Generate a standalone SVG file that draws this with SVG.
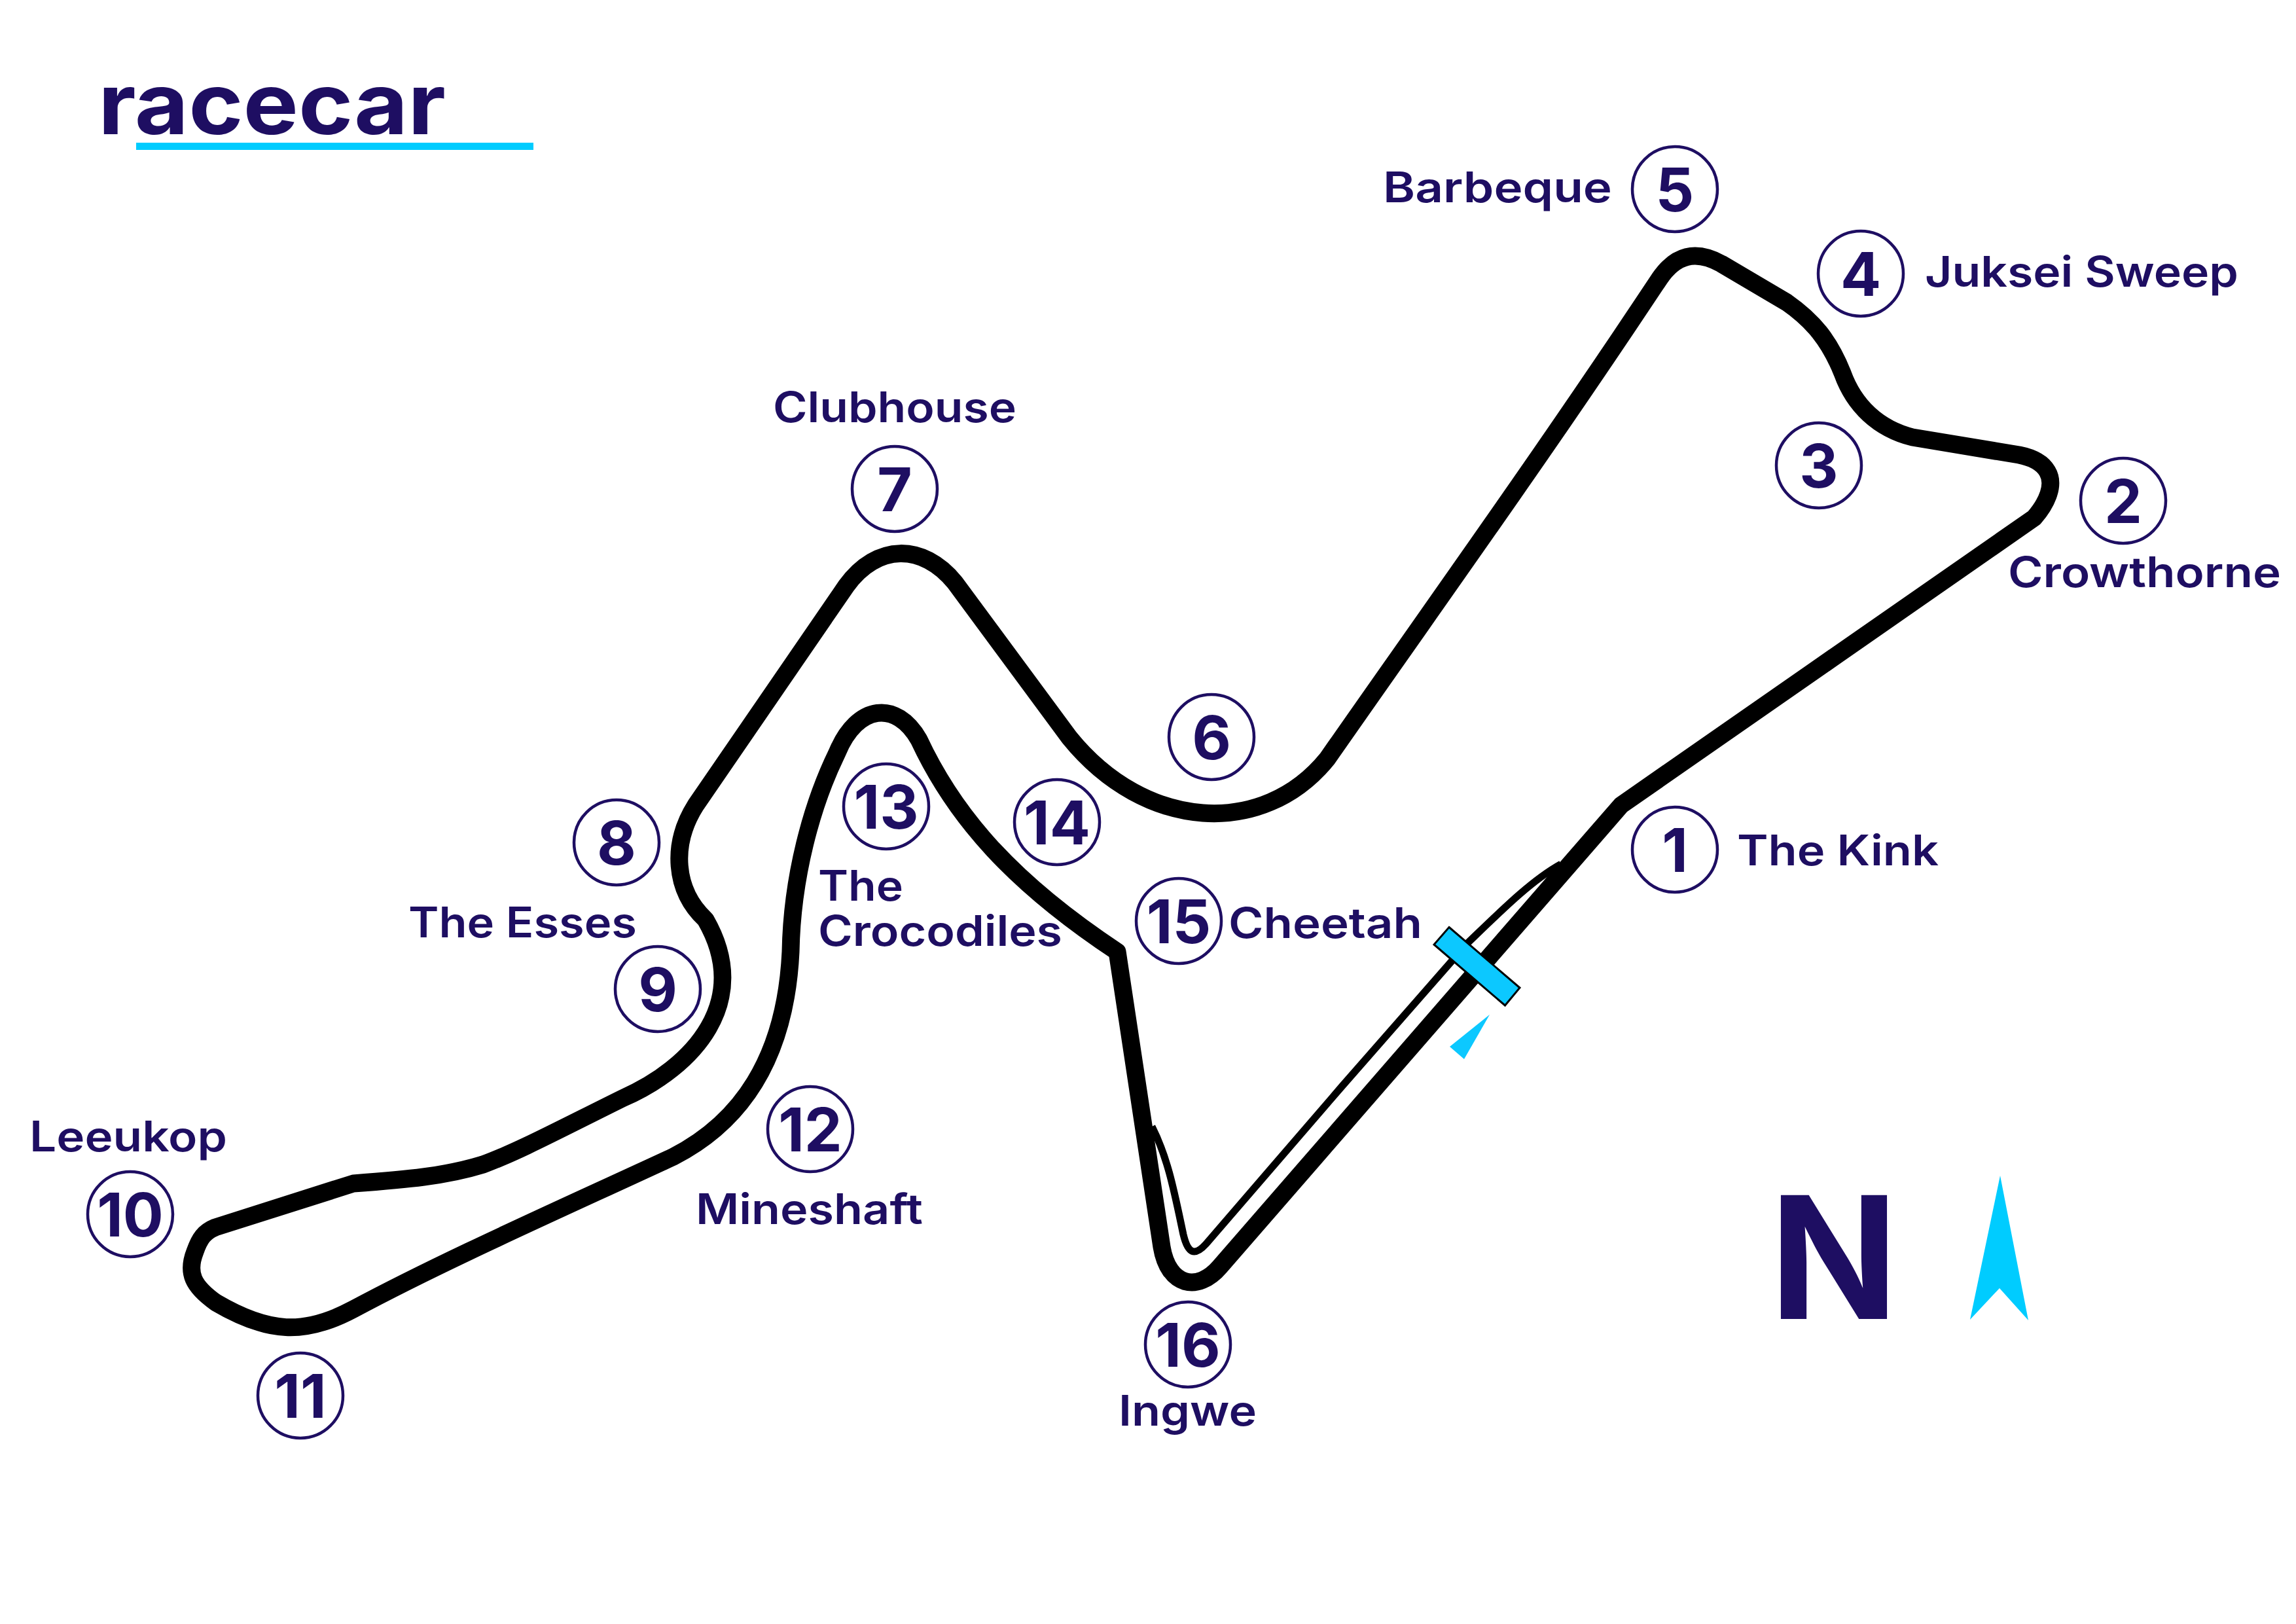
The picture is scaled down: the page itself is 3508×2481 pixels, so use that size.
<svg xmlns="http://www.w3.org/2000/svg" width="3508" height="2481" viewBox="0 0 3508 2481">
<style>
.t{font-family:Inter,"Noto Sans","Liberation Sans",sans-serif;fill:#1e0e62}
.n{font-size:92px;font-weight:700;text-anchor:middle}
.l{font-size:64px;font-weight:600}
.c{fill:#fff;stroke:#1e0e62;stroke-width:4.5}
.trk{fill:none;stroke:#000;stroke-linejoin:round}
</style>
<rect width="3508" height="2481" fill="#fff"/>
<g id="logo">
<text class="t" x="150" y="205" font-size="130" font-weight="700" textLength="531" lengthAdjust="spacingAndGlyphs">racecar</text>
<rect x="208" y="218" width="607" height="11" fill="#00ccff"/>
</g>
<g id="connectors">
<path id="pit-lane" class="trk" stroke-width="11" d="M2385,1320 C2340,1345 2295,1390 2242,1441 L2050,1660 L1843,1900 C1825,1920 1815,1915 1808,1886 C1795,1825 1785,1770 1760,1721"/>
<path id="track" class="trk" stroke-width="27" d="M2477,1230 L3108,791 C3128,768 3140,740 3128,720 C3120,706 3105,699 3085,695 L2922,668 C2870,655 2833,620 2815,570 C2795,520 2770,490 2730,462 L2630,403 C2590,381 2560,390 2536,425 C2360,690 2230,870 2028,1159 C1930,1280 1750,1270 1634,1127 L1459,890 C1410,830 1340,830 1293,895 L1063,1230 C1025,1290 1030,1360 1078,1405 C1150,1530 1060,1630 951,1678 C850,1728 790,1760 738,1779 C680,1797 620,1802 540,1808 L329,1875 C312,1882 305,1892 298,1912 C285,1945 295,1965 330,1990 C410,2037 465,2040 540,2000 C680,1925 850,1850 1029,1767 C1130,1715 1200,1620 1208,1454 C1210,1340 1240,1230 1279,1150 C1310,1075 1370,1070 1404,1130 C1460,1250 1550,1350 1707,1454 L1775,1905 C1785,1965 1830,1975 1864,1935 Z"/>
</g>
<g id="start-line">
<polygon points="2214,1416.5 2322,1509 2299.5,1536 2191,1443" fill="#0cc8ff" stroke="#000" stroke-width="3"/>
<polygon points="2276,1550 2215,1599 2237,1618" fill="#0cc8ff"/>
</g>
<g id="turn-1"><circle class="c" cx="2559" cy="1298" r="65"/><text class="t n" x="2559" y="1332">1</text><text class="t l" x="2654" y="1322" textLength="308" lengthAdjust="spacingAndGlyphs">The Kink</text></g>
<g id="turn-2"><circle class="c" cx="3244" cy="765" r="65"/><text class="t n" x="3244" y="799">2</text><text class="t l" x="3068" y="897" textLength="417" lengthAdjust="spacingAndGlyphs">Crowthorne</text></g>
<g id="turn-3"><circle class="c" cx="2779" cy="711" r="65"/><text class="t n" x="2779" y="745">3</text></g>
<g id="turn-4"><circle class="c" cx="2843" cy="418" r="65"/><text class="t n" x="2843" y="452">4</text><text class="t l" x="2941" y="438" textLength="479" lengthAdjust="spacingAndGlyphs">Juksei Sweep</text></g>
<g id="turn-5"><circle class="c" cx="2559" cy="289" r="65"/><text class="t n" x="2559" y="323">5</text><text class="t l" x="2113" y="309" textLength="350" lengthAdjust="spacingAndGlyphs">Barbeque</text></g>
<g id="turn-6"><circle class="c" cx="1851" cy="1126" r="65"/><text class="t n" x="1851" y="1160">6</text></g>
<g id="turn-7"><circle class="c" cx="1367" cy="747" r="65"/><text class="t n" x="1367" y="781">7</text><text class="t l" x="1181" y="645" textLength="372" lengthAdjust="spacingAndGlyphs">Clubhouse</text></g>
<g id="turn-8"><circle class="c" cx="942" cy="1287" r="65"/><text class="t n" x="942" y="1321">8</text></g>
<g id="turn-9"><circle class="c" cx="1005" cy="1511" r="65"/><text class="t n" x="1005" y="1545">9</text><text class="t l" x="624" y="1432" textLength="349" lengthAdjust="spacingAndGlyphs">The Esses</text></g>
<g id="turn-10"><circle class="c" cx="199" cy="1855" r="65"/><text class="t n" x="199" y="1889">10</text><text class="t l" x="45" y="1759" textLength="302" lengthAdjust="spacingAndGlyphs">Leeukop</text></g>
<g id="turn-11"><circle class="c" cx="459" cy="2132" r="65"/><text class="t n" x="459" y="2166">11</text></g>
<g id="turn-12"><circle class="c" cx="1238" cy="1725" r="65"/><text class="t n" x="1238" y="1759">12</text><text class="t l" x="1063" y="1870" textLength="347" lengthAdjust="spacingAndGlyphs">Mineshaft</text></g>
<g id="turn-13"><circle class="c" cx="1354" cy="1232" r="65"/><text class="t n" x="1354" y="1266">13</text><text class="t l" x="1250" y="1376" textLength="130" lengthAdjust="spacingAndGlyphs">The</text><text class="t l" x="1250" y="1445" textLength="373" lengthAdjust="spacingAndGlyphs">Crocodiles</text></g>
<g id="turn-14"><circle class="c" cx="1615" cy="1256" r="65"/><text class="t n" x="1615" y="1290">14</text></g>
<g id="turn-15"><circle class="c" cx="1801" cy="1407" r="65"/><text class="t n" x="1801" y="1441">15</text><text class="t l" x="1877" y="1433" textLength="296" lengthAdjust="spacingAndGlyphs">Cheetah</text></g>
<g id="turn-16"><circle class="c" cx="1815" cy="2054" r="65"/><text class="t n" x="1815" y="2088">16</text><text class="t l" x="1709" y="2178" textLength="211" lengthAdjust="spacingAndGlyphs">Ingwe</text></g>
<g id="north">
<text class="t" x="2704" y="2015" font-size="260" font-weight="700" textLength="196" lengthAdjust="spacingAndGlyphs">N</text>
<polygon points="3056,1796 3099,2017 3055,1968 3010,2016" fill="#00ccff"/>
</g>
</svg>
